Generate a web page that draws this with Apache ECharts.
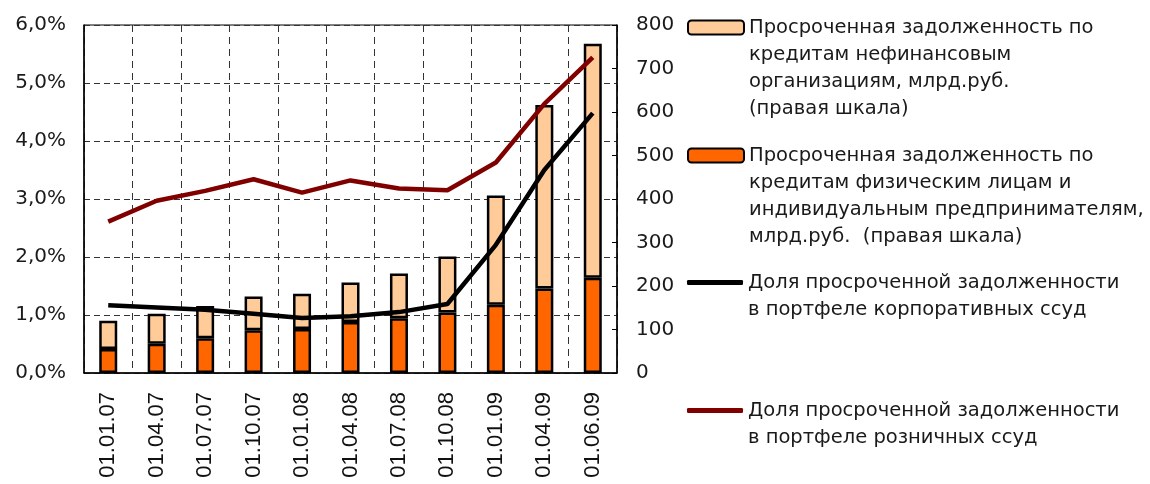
<!DOCTYPE html>
<html>
<head>
<meta charset="utf-8">
<script src="https://cdn.jsdelivr.net/npm/echarts@6/dist/echarts.min.js"></script>
<style>
  html, body { margin: 0; padding: 0; background: #fff; }
  #chart { width: 1150px; height: 484px; }
</style>
</head>
<body>
<div id="chart"></div>
<script>
// даты
const dates = ['01.01.07', '01.04.07', '01.07.07', '01.10.07', '01.01.08', '01.04.08',
  '01.07.08', '01.10.08', '01.01.09', '01.04.09', '01.06.09']

// просрочка физлица + ИП, млрд руб. (правая шкала)
const retailOverdue = [55, 67, 80, 98, 101, 117, 126, 139, 157, 194, 219]
// просрочка нефинансовые организации, млрд руб. (правая шкала)
const corpOverdue = [65, 69, 74, 78, 81, 91, 103, 129, 251, 422, 538]

// доли просрочки, %
const corpShare = [1.17, 1.13, 1.09, 1.02, 0.95, 0.98, 1.05, 1.19, 2.21, 3.50, 4.48]
const retailShare = [2.61, 2.97, 3.14, 3.34, 3.11, 3.32, 3.18, 3.15, 3.63, 4.64, 5.44]

const names = {
  corp: 'Просроченная задолженность по\nкредитам нефинансовым\nорганизациям, млрд.руб.\n(правая шкала)',
  retail: 'Просроченная задолженность по\nкредитам физическим лицам и\nиндивидуальным предпринимателям,\nмлрд.руб.  (правая шкала)',
  corpShare: 'Доля просроченной задолженности\nв портфеле корпоративных ссуд',
  retailShare: 'Доля просроченной задолженности\nв портфеле розничных ссуд'
}

const font = 'DejaVu Sans'
const LH = 27

// легенда: значок на уровне первой строки текста
// (пустые строки сверху, чтобы первая строка оказалась в центре блока)
const makeLegend = (name, iconY, extra) => {
  const lines = name.split('\n').length
  const blockH = (2 * lines - 1) * LH
  return Object.assign({
    data: [name],
    left: 687,
    top: Math.round(iconY - blockH / 2),
    orient: 'vertical',
    padding: 0,
    itemWidth: 56,
    itemHeight: 14,
    selectedMode: false,
    formatter: n => '\n'.repeat(lines - 1) + n,
    textStyle: {
      fontFamily: font,
      fontSize: 19.5,
      color: '#1a1a1a',
      lineHeight: LH
    }
  }, extra || {})
}

const chart = echarts.init(document.getElementById('chart'))

const option = {
  animation: false,
  backgroundColor: '#fff',
  grid: {
    left: 84,
    right: 533,
    top: 25,
    bottom: 111,
    outerBoundsMode: 'none',
    containLabel: false,
    show: true,
    borderColor: '#000',
    borderWidth: 1
  },
  legend: [
    makeLegend(names.corp, 27),
    makeLegend(names.retail, 155),
    makeLegend(names.corpShare, 282, { icon: 'roundRect', itemHeight: 5 }),
    makeLegend(names.retailShare, 410, { icon: 'roundRect', itemHeight: 5 })
  ],
  xAxis: {
    type: 'category',
    data: dates,
    axisLine: { lineStyle: { color: '#000', width: 1.5 } },
    axisTick: { show: false },
    axisLabel: {
      rotate: 90,
      margin: 19,
      fontFamily: 'Liberation Sans',
      fontSize: 22,
      color: '#111'
    },
    splitLine: {
      show: true,
      interval: 0,
      lineStyle: { color: '#333', type: [7, 5], width: 1 }
    }
  },
  yAxis: [
    {
      type: 'value',
      min: 0,
      max: 6,
      interval: 1,
      axisLine: { show: true, lineStyle: { color: '#000', width: 1.5 } },
      axisTick: { show: false },
      axisLabel: {
        margin: 18,
        fontFamily: font,
        fontSize: 20,
        color: '#1a1a1a',
        formatter: v => v.toFixed(1).replace('.', ',') + '%'
      },
      splitLine: { lineStyle: { color: '#333', type: [6, 4], width: 1 } }
    },
    {
      type: 'value',
      min: 0,
      max: 800,
      interval: 100,
      position: 'right',
      axisLine: { show: true, lineStyle: { color: '#000', width: 1.5 } },
      axisTick: { show: true, inside: true, length: 5, lineStyle: { color: '#000' } },
      axisLabel: {
        margin: 19,
        fontFamily: font,
        fontSize: 20,
        color: '#1a1a1a'
      },
      splitLine: { show: false }
    }
  ],
  series: [
    {
      name: names.retail,
      type: 'bar',
      stack: 'debt',
      yAxisIndex: 1,
      barWidth: 18,
      data: retailOverdue,
      itemStyle: { color: '#ff6600', borderColor: '#000', borderWidth: 2.5 }
    },
    {
      name: names.corp,
      type: 'bar',
      stack: 'debt',
      yAxisIndex: 1,
      barWidth: 18,
      data: corpOverdue,
      itemStyle: { color: '#ffcc99', borderColor: '#000', borderWidth: 2.5 }
    },
    {
      name: names.corpShare,
      type: 'line',
      yAxisIndex: 0,
      data: corpShare,
      symbol: 'none',
      z: 5,
      lineStyle: { color: '#000', width: 4.5 },
      itemStyle: { color: '#000' }
    },
    {
      name: names.retailShare,
      type: 'line',
      yAxisIndex: 0,
      data: retailShare,
      symbol: 'none',
      z: 5,
      lineStyle: { color: '#800000', width: 4.5 },
      itemStyle: { color: '#800000' }
    }
  ]
}

chart.setOption(option)
</script>
</body>
</html>
